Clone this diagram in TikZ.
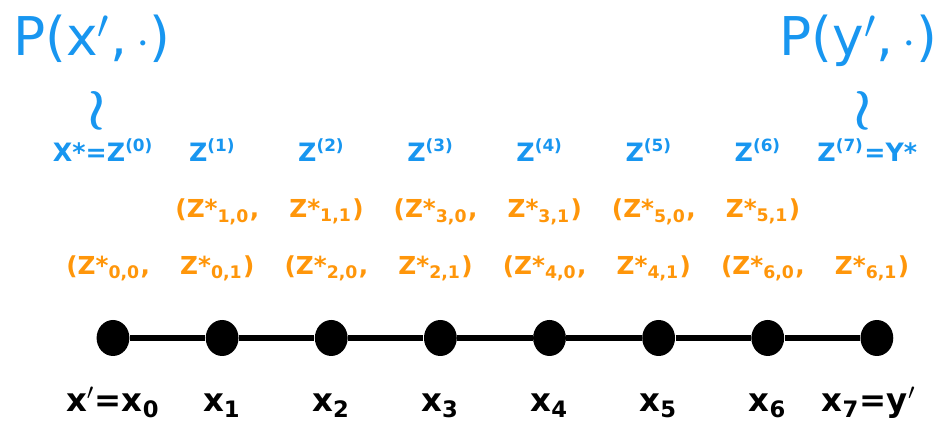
\documentclass[tikz,border=0pt]{standalone}
\usepackage{fontspec}
\setmainfont{DejaVu Sans}
\usepackage{xcolor}
\usepackage{tikz}
\usetikzlibrary{shapes.geometric, positioning}
\definecolor{zblue}{RGB}{24,150,240}
\definecolor{zorange}{RGB}{255,150,10}
\tikzset{
  dot/.style={ellipse, fill=black, minimum width=0.41cm, minimum height=0.45cm,
              inner sep=0pt},
  chainline/.style={draw=black, line width=2.3pt},
  xlab/.style={anchor=base, font=\fontsize{11.5}{14}\selectfont\bfseries},
  zlab/.style={anchor=base, text=zblue, font=\fontsize{9}{11}\selectfont\bfseries},
  plab/.style={anchor=base, text=zblue, inner sep=1pt, font=\fontsize{19}{22}\selectfont},
  olab/.style={anchor=base, text=zorange, font=\fontsize{8.8}{11}\selectfont\bfseries},
  sim/.style={text=zblue, font=\fontsize{21}{24}\selectfont\boldmath},
}

\begin{document}
\begin{tikzpicture}
  \useasboundingbox (0,0) rectangle (11.8,5.4);

  % the chain x_0 ... x_7
  \node[dot] (x0) at (1.4125,1.175) {};
  \node[dot, right=0.94cm of x0] (x1) {};
  \node[dot, right=0.94cm of x1] (x2) {};
  \node[dot, right=0.94cm of x2] (x3) {};
  \node[dot, right=0.94cm of x3] (x4) {};
  \node[dot, right=0.94cm of x4] (x5) {};
  \node[dot, right=0.94cm of x5] (x6) {};
  \node[dot, right=0.94cm of x6] (x7) {};
  \draw[chainline] (x0)--(x1)--(x2)--(x3)--(x4)--(x5)--(x6)--(x7);

  \node[xlab] (lx0) at ([yshift=-0.925cm]x0.center) {x$'$=x\textsubscript{0}};
  \node[xlab] (lx1) at ([yshift=-0.925cm]x1.center) {x\textsubscript{1}};
  \node[xlab] (lx2) at ([yshift=-0.925cm]x2.center) {x\textsubscript{2}};
  \node[xlab] (lx3) at ([yshift=-0.925cm]x3.center) {x\textsubscript{3}};
  \node[xlab] (lx4) at ([yshift=-0.925cm]x4.center) {x\textsubscript{4}};
  \node[xlab] (lx5) at ([yshift=-0.925cm]x5.center) {x\textsubscript{5}};
  \node[xlab] (lx6) at ([yshift=-0.925cm]x6.center) {x\textsubscript{6}};
  \node[xlab] (lx7) at ([xshift=-0.1cm, yshift=-0.925cm]x7.center) {x\textsubscript{7}=y$'$};

  % pairs of Z*
  \node[olab] (o00) at ([xshift=-0.06cm, yshift=0.79cm]x0.center) {(Z*\textsubscript{0,0},};
  \node[olab] (o01) at ([xshift=-0.06cm, yshift=0.79cm]x1.center) {Z*\textsubscript{0,1})};
  \node[olab] (o20) at ([xshift=-0.06cm, yshift=0.79cm]x2.center) {(Z*\textsubscript{2,0},};
  \node[olab] (o21) at ([xshift=-0.06cm, yshift=0.79cm]x3.center) {Z*\textsubscript{2,1})};
  \node[olab] (o40) at ([xshift=-0.06cm, yshift=0.79cm]x4.center) {(Z*\textsubscript{4,0},};
  \node[olab] (o41) at ([xshift=-0.06cm, yshift=0.79cm]x5.center) {Z*\textsubscript{4,1})};
  \node[olab] (o60) at ([xshift=-0.06cm, yshift=0.79cm]x6.center) {(Z*\textsubscript{6,0},};
  \node[olab] (o61) at ([xshift=-0.06cm, yshift=0.79cm]x7.center) {Z*\textsubscript{6,1})};

  \node[olab] (o10) at ([xshift=-0.06cm, yshift=1.5cm]x1.center) {(Z*\textsubscript{1,0},};
  \node[olab] (o11) at ([xshift=-0.06cm, yshift=1.5cm]x2.center) {Z*\textsubscript{1,1})};
  \node[olab] (o30) at ([xshift=-0.06cm, yshift=1.5cm]x3.center) {(Z*\textsubscript{3,0},};
  \node[olab] (o31) at ([xshift=-0.06cm, yshift=1.5cm]x4.center) {Z*\textsubscript{3,1})};
  \node[olab] (o50) at ([xshift=-0.06cm, yshift=1.5cm]x5.center) {(Z*\textsubscript{5,0},};
  \node[olab] (o51) at ([xshift=-0.06cm, yshift=1.5cm]x6.center) {Z*\textsubscript{5,1})};

  % the Z^(k)
  \node[zlab] (z0) at ([xshift=-0.12cm, yshift=2.2cm]x0.center) {X*=Z\textsuperscript{(0)}};
  \node[zlab] (z1) at ([xshift=-0.12cm, yshift=2.2cm]x1.center) {Z\textsuperscript{(1)}};
  \node[zlab] (z2) at ([xshift=-0.12cm, yshift=2.2cm]x2.center) {Z\textsuperscript{(2)}};
  \node[zlab] (z3) at ([xshift=-0.12cm, yshift=2.2cm]x3.center) {Z\textsuperscript{(3)}};
  \node[zlab] (z4) at ([xshift=-0.12cm, yshift=2.2cm]x4.center) {Z\textsuperscript{(4)}};
  \node[zlab] (z5) at ([xshift=-0.12cm, yshift=2.2cm]x5.center) {Z\textsuperscript{(5)}};
  \node[zlab] (z6) at ([xshift=-0.12cm, yshift=2.2cm]x6.center) {Z\textsuperscript{(6)}};
  \node[zlab] (z7) at ([xshift=-0.12cm, yshift=2.2cm]x7.center) {Z\textsuperscript{(7)}=Y*};

  \node[sim] (w0) at (1.2125,4.0125) {$\wr$};
  \node[sim] (w7) at (10.79,4.0125) {$\wr$};

  \node[plab] (px) at (1.15,4.70) {P(x$'$,\,$\cdot$)};
  \node[plab] (py) at (10.73,4.70) {P(y$'$,\,$\cdot$)};
\end{tikzpicture}
\end{document}
